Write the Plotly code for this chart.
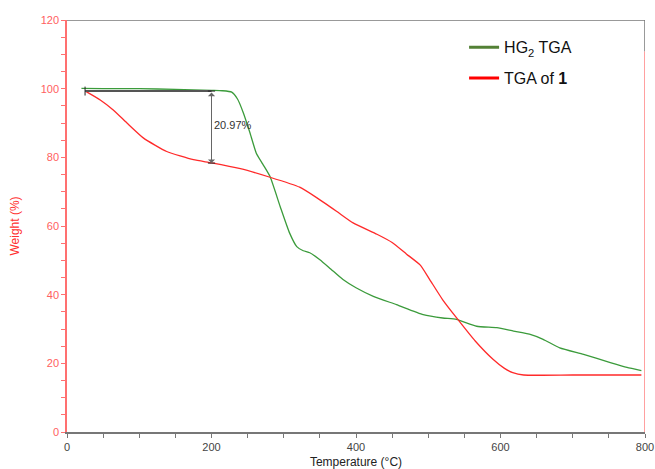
import plotly.graph_objects as go

# HG2 TGA (green)
hg2_temp = [20, 50, 100, 150, 200, 215, 228, 236, 244, 253, 262, 271, 281, 295, 308, 318, 327, 336,
            350, 365, 382, 400, 424, 456, 493, 520, 539, 567, 595, 618, 640, 659, 682, 715, 752, 775, 795]
hg2_weight = [100.1, 100.0, 100.0, 99.8, 99.5, 99.4, 99.0, 97.0, 93.0, 87.3, 81.2, 78.0, 74.4, 65.7, 58.0,
              54.0, 52.8, 52.2, 50.2, 47.5, 44.4, 42.0, 39.5, 37.1, 34.2, 33.2, 32.8, 30.8, 30.4, 29.4,
              28.5, 27.0, 24.5, 22.6, 20.2, 18.8, 17.9]

# TGA of 1 (red)
c1_temp = [26, 46, 64, 83, 106, 138, 175, 200, 240, 281, 322, 346, 373, 396, 429, 450, 470, 489, 502,
           520, 539, 565, 590, 605, 617, 632, 700, 795]
c1_weight = [99.2, 96.7, 93.8, 90.0, 85.6, 81.7, 79.3, 78.4, 76.7, 74.2, 71.3, 68.2, 64.3, 60.9, 57.6,
             55.2, 51.8, 48.6, 44.4, 38.5, 33.3, 26.5, 21.1, 18.6, 17.3, 16.6, 16.6, 16.6]

# annotation of weight loss
step_start_t = 25
step_t = 200
step_top = 99.3
step_bottom = 78.33
step_label = "20.97%"

x_ticks = [0, 200, 400, 600, 800]
y_ticks = [0, 20, 40, 60, 80, 100, 120]

fig = go.Figure()
fig.add_trace(go.Scatter(x=hg2_temp, y=hg2_weight, mode="lines", showlegend=False,
                         line=dict(color="#3b9b3b", width=1.3, shape="spline", smoothing=0.5)))
fig.add_trace(go.Scatter(x=c1_temp, y=c1_weight, mode="lines", showlegend=False,
                         line=dict(color="#ff2a2a", width=1.3, shape="spline", smoothing=0.5)))
# legend entries
fig.add_trace(go.Scatter(x=[None], y=[None], mode="lines", name="HG<sub>2</sub> TGA", legendgroup="a",
                         line=dict(color="#538135", width=3)))
fig.add_trace(go.Scatter(x=[None], y=[None], mode="lines", name="TGA of <b>1</b>", legendgroup="b",
                         line=dict(color="#ff0000", width=3)))

# horizontal reference line and end tick
fig.add_shape(type="line", x0=step_start_t, x1=step_t, y0=step_top, y1=step_top,
              line=dict(color="#555555", width=2))
fig.add_shape(type="line", x0=step_start_t, x1=step_start_t, y0=step_top - 1.3, y1=step_top + 1.3,
              line=dict(color="#222222", width=1))
# caps of the double arrow
fig.add_shape(type="line", x0=step_t - 5, x1=step_t + 5, y0=step_top, y1=step_top,
              line=dict(color="#222222", width=1))
fig.add_shape(type="line", x0=step_t - 5, x1=step_t + 5, y0=step_bottom, y1=step_bottom,
              line=dict(color="#222222", width=1))
# double arrow
fig.add_annotation(x=step_t, y=step_bottom, ax=step_t, ay=step_top, xref="x", yref="y",
                   axref="x", ayref="y", text="", showarrow=True, arrowhead=1, arrowside="end+start",
                   arrowwidth=1, arrowsize=1.2, arrowcolor="#666666", startarrowhead=1, startarrowsize=1.2)
fig.add_annotation(x=step_t + 1, y=(step_top + step_bottom) / 2 + 0.5, text=step_label, showarrow=False,
                   xanchor="left", font=dict(family="Liberation Sans, Arial", size=11, color="#333333"))

# right frame: grey top part, red below
fig.add_shape(type="line", x0=800, x1=800, y0=120, y1=110.8, line=dict(color="#777777", width=1.5))
fig.add_shape(type="line", x0=800, x1=800, y0=110.8, y1=0, line=dict(color="#ff8080", width=1.5))

fig.update_layout(
    width=655, height=469,
    margin=dict(l=67, r=10, t=20, b=37),
    paper_bgcolor="white", plot_bgcolor="white",
    font=dict(family="Liberation Sans, Arial", size=11),
    legend=dict(x=0.687, y=0.975, xanchor="left", yanchor="top", bgcolor="rgba(0,0,0,0)",
                font=dict(family="Liberation Sans, Arial", size=16, color="#111111"),
                tracegroupgap=7, itemwidth=30),
    xaxis=dict(range=[0, 800], tickvals=x_ticks, ticktext=[str(v) for v in x_ticks], automargin=False,
               showgrid=False, zeroline=False, showline=True, linecolor="#777777", linewidth=1.5,
               mirror=False, ticks="outside", ticklen=4, tickcolor="#777777",
               tickfont=dict(color="#444444", size=11),
               minor=dict(dtick=50, ticks="outside", ticklen=4, tickcolor="#777777"),
               title=dict(text="Temperature (°C)", font=dict(size=12, color="#222222"), standoff=6)),
    yaxis=dict(range=[0, 120], tickvals=y_ticks, ticktext=[str(v) for v in y_ticks], automargin=False,
               showgrid=False, zeroline=False, showline=True, linecolor="#ff7070", linewidth=1.5,
               ticks="outside", ticklen=4, tickcolor="#ff7070",
               tickfont=dict(color="#ff6060", size=11),
               minor=dict(dtick=5, ticks="outside", ticklen=4, tickcolor="#ff7070"),
               title=dict(text="Weight (%)", font=dict(size=12, color="#ff3030"), standoff=18)),
)
# top frame line
fig.add_shape(type="line", x0=0, x1=800, y0=120, y1=120, line=dict(color="#777777", width=1.5))

fig.write_html("out.html", config={"displayModeBar": False},
               post_script="document.body.style.margin='0';document.body.style.overflow='hidden';")
